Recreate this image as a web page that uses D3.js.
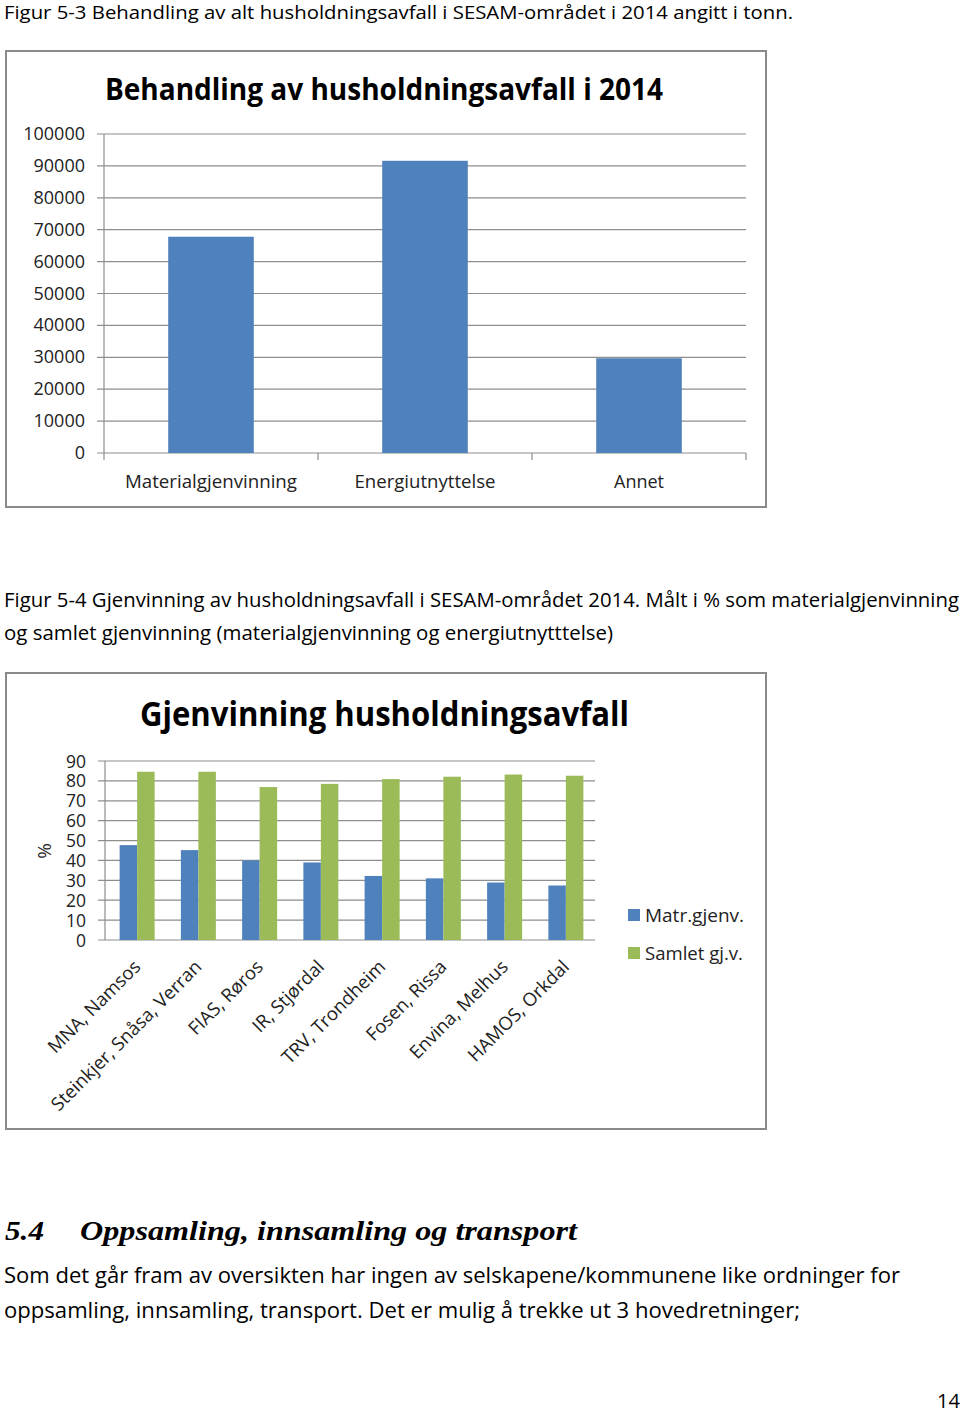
<!DOCTYPE html>
<html><head><meta charset="utf-8">
<script src="https://cdn.jsdelivr.net/npm/d3@7"></script>
<style>body{margin:0;background:#fff}svg{display:block}</style>
</head><body>
<script>
// ---- Data: chart 1 ----
const treatCategories = ["Materialgjenvinning", "Energiutnyttelse", "Annet"];
const treatValues = [67800, 91600, 29700];
const treatTicks = [0,10000,20000,30000,40000,50000,60000,70000,80000,90000,100000];

// ---- Data: chart 2 ----
const recCategories = ["MNA, Namsos","Steinkjer, Snåsa, Verran","FIAS, Røros","IR, Stjørdal","TRV, Trondheim","Fosen, Rissa","Envina, Melhus","HAMOS, Orkdal"];
const matrGjenv = [47.7, 45.2, 40.0, 39.0, 32.2, 31.0, 28.9, 27.4];
const samletGjv = [84.6, 84.6, 76.9, 78.5, 80.9, 82.1, 83.2, 82.6];
const seriesNames = ["Matr.gjenv.", "Samlet gj.v."];
const recTicks = [0,10,20,30,40,50,60,70,80,90];

const BLUE = "#4f81bd", GREEN = "#9bbb59", GRID = "#8e8e8e", FRAME = "#8a8a8a";
const SANS = "'Open Sans', 'Noto Sans', sans-serif";

const svg = d3.select("body").append("svg").attr("width", 960).attr("height", 1414)
  .style("font-family", SANS);
svg.append("rect").attr("width", 960).attr("height", 1414).attr("fill", "#fff");

function txt(x, y, s, size, len, opts = {}) {
  const t = svg.append("text").attr("x", x).attr("y", y).text(s)
    .attr("font-size", size).attr("fill", opts.fill || "#000");
  if (len) t.attr("textLength", len).attr("lengthAdjust", "spacingAndGlyphs");
  if (opts.weight) t.attr("font-weight", opts.weight);
  if (opts.style) t.attr("font-style", opts.style);
  if (opts.family) t.attr("font-family", opts.family);
  if (opts.anchor) t.attr("text-anchor", opts.anchor);
  return t;
}

// Captions
txt(4, 19, "Figur 5-3 Behandling av alt husholdningsavfall i SESAM-området i 2014 angitt i tonn.", 19, 789);
txt(4, 607, "Figur 5-4 Gjenvinning av husholdningsavfall i SESAM-området 2014. Målt i % som materialgjenvinning", 20, 955);
txt(4, 640, "og samlet gjenvinning (materialgjenvinning og energiutnytttelse)", 20, 609);

// ================= Chart 1 =================
svg.append("rect").attr("x", 6).attr("y", 51).attr("width", 760).attr("height", 456)
  .attr("fill", "none").attr("stroke", FRAME).attr("stroke-width", 2);
txt(105, 100, "Behandling av husholdningsavfall i 2014", 30, 558, {weight: "bold"});

const x1 = d3.scaleBand().domain(treatCategories).range([104, 746]).paddingInner(0.6).paddingOuter(0.3);
const y1 = d3.scaleLinear().domain([0, 100000]).range([453, 134]);

const g1 = svg.append("g");
g1.selectAll("line.grid").data(treatTicks).join("line")
  .attr("x1", 97).attr("x2", 746).attr("y1", d => y1(d)).attr("y2", d => y1(d))
  .attr("stroke", GRID).attr("stroke-width", 1.2);
g1.append("line").attr("x1", 104).attr("x2", 104).attr("y1", 134).attr("y2", 460)
  .attr("stroke", GRID).attr("stroke-width", 1.2);
const xb1 = d3.scaleLinear().domain([0, 3]).range([104, 746]);
g1.selectAll("line.ct").data([1, 2, 3]).join("line")
  .attr("x1", d => xb1(d)).attr("x2", d => xb1(d)).attr("y1", 453).attr("y2", 460)
  .attr("stroke", GRID).attr("stroke-width", 1.2);
g1.selectAll("rect.bar").data(treatValues).join("rect")
  .attr("x", (d, i) => x1(treatCategories[i])).attr("width", x1.bandwidth())
  .attr("y", d => y1(d)).attr("height", d => y1(0) - y1(d)).attr("fill", BLUE);
g1.selectAll("text.yl").data(treatTicks).join("text")
  .attr("x", 85).attr("y", d => y1(d) + 6).attr("text-anchor", "end")
  .attr("font-size", 18).attr("fill", "#222").text(d => d);
const lens1 = [172, 141, 50];
treatCategories.forEach((c, i) => {
  txt(x1(c) + x1.bandwidth() / 2, 488, c, 18, lens1[i], {anchor: "middle", fill: "#222"});
});

// ================= Chart 2 =================
svg.append("rect").attr("x", 6).attr("y", 673).attr("width", 760).attr("height", 456)
  .attr("fill", "none").attr("stroke", FRAME).attr("stroke-width", 2);
txt(140, 726, "Gjenvinning husholdningsavfall", 34, 489, {weight: "bold"});

const x2 = d3.scaleBand().domain(recCategories).range([105, 595]);
const sub = d3.scaleBand().domain(seriesNames).range([0, x2.bandwidth()]).paddingOuter(0.75).paddingInner(0);
const y2 = d3.scaleLinear().domain([0, 90]).range([940, 761]);

const g2 = svg.append("g");
g2.selectAll("line.grid").data(recTicks).join("line")
  .attr("x1", 98).attr("x2", 595).attr("y1", d => y2(d)).attr("y2", d => y2(d))
  .attr("stroke", GRID).attr("stroke-width", 1.2);
g2.append("line").attr("x1", 105).attr("x2", 105).attr("y1", 761).attr("y2", 940)
  .attr("stroke", GRID).attr("stroke-width", 1.2);
const series = [matrGjenv, samletGjv];
const colors = [BLUE, GREEN];
series.forEach((vals, s) => {
  g2.selectAll("rect.s" + s).data(vals).join("rect")
    .attr("x", (d, i) => x2(recCategories[i]) + sub(seriesNames[s]) + 1.5)
    .attr("width", sub.bandwidth())
    .attr("y", d => y2(d)).attr("height", d => y2(0) - y2(d)).attr("fill", colors[s]);
});
g2.selectAll("text.yl").data(recTicks).join("text")
  .attr("x", 86).attr("y", d => y2(d) + 6.5).attr("text-anchor", "end")
  .attr("font-size", 17.5).attr("fill", "#222").text(d => d);
svg.append("text").attr("transform", "translate(51,851) rotate(-90)")
  .attr("text-anchor", "middle").attr("font-size", 19).attr("fill", "#222").text("%");

recCategories.forEach((c, i) => {
  const cx = x2(c) + x2.bandwidth() / 2 + 6;
  svg.append("text").attr("transform", `translate(${cx},${968}) rotate(-45)`)
    .attr("text-anchor", "end").attr("font-size", 18.5).attr("fill", "#222").text(c);
});

// Legend
seriesNames.forEach((n, i) => {
  const yy = 909 + i * 38;
  svg.append("rect").attr("x", 628).attr("y", yy).attr("width", 12).attr("height", 12).attr("fill", colors[i]);
  txt(645, yy + 13, n, 18, i === 0 ? 99 : 98, {fill: "#222"});
});

// Section text
txt(5, 1240, "5.4", 27, 39, {weight: "bold", style: "italic", family: "'Liberation Serif', serif"});
txt(80, 1240, "Oppsamling, innsamling og transport", 27, 497, {weight: "bold", style: "italic", family: "'Liberation Serif', serif"});
txt(4, 1283, "Som det går fram av oversikten har ingen av selskapene/kommunene like ordninger for", 22, 896);
txt(4, 1318, "oppsamling, innsamling, transport. Det er mulig å trekke ut 3 hovedretninger;", 22, 796);
txt(937, 1408, "14", 20, 23);
</script>
</body></html>
